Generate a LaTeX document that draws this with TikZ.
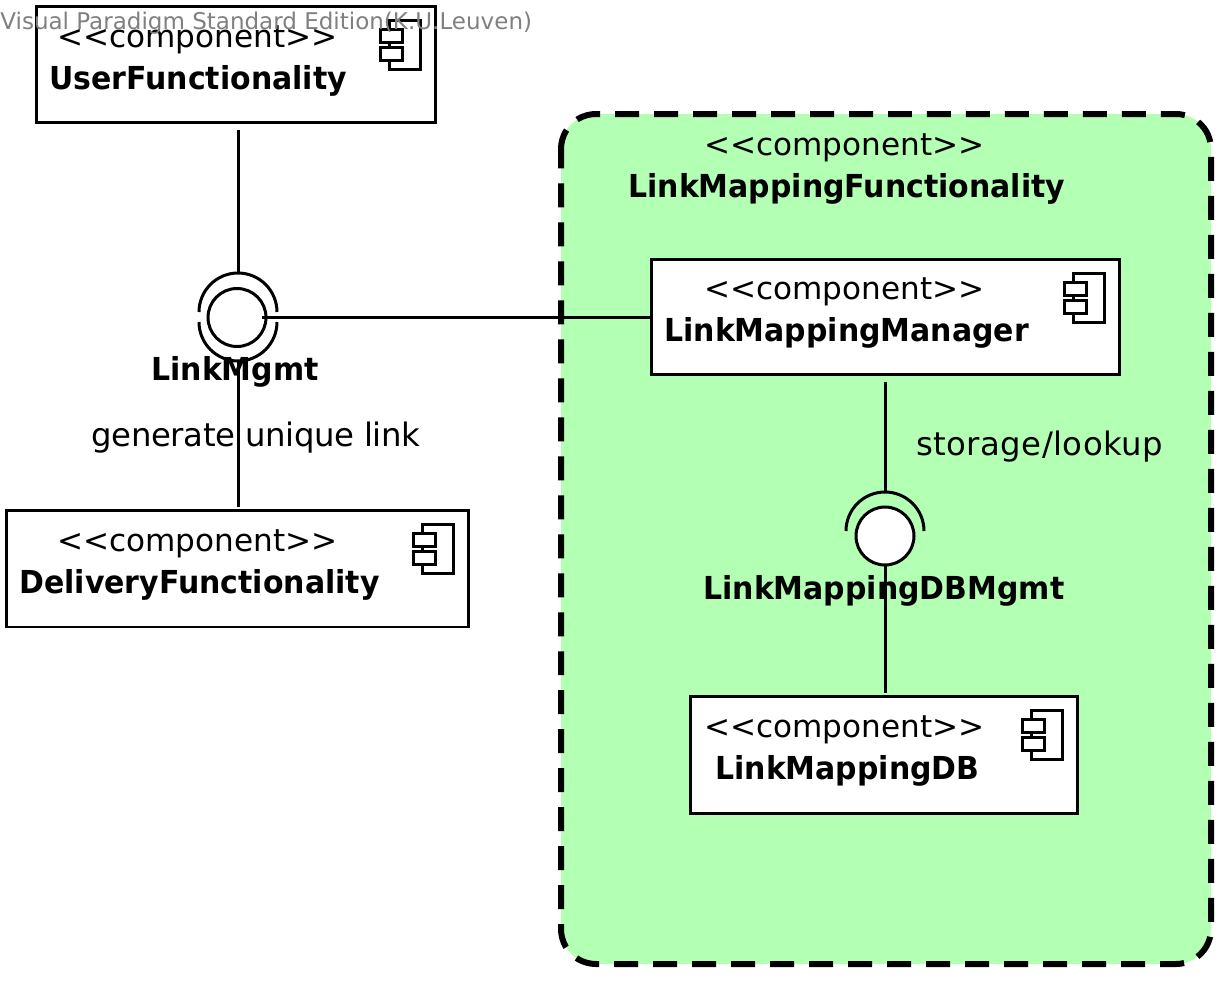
\documentclass[tikz,border=0pt]{standalone}
\usepackage{fontspec}
\setmainfont[BoldFeatures={FakeStretch=0.947}]{DejaVu Sans}
\definecolor{compgreen}{HTML}{B3FFB3}
\newcommand{\stereotext}{{<}{<}component{>}{>}}
\tikzset{
  wire/.style={draw=black,line width=0.06cm},
  compbox/.style={draw=black,fill=white,line width=0.06cm,outer sep=0pt,inner sep=0pt},
  ball/.style={circle,draw=black,fill=white,line width=0.06cm,outer sep=0pt,inner sep=0pt,minimum size=1.16cm},
  socket/.style={circle,outer sep=0pt,inner sep=0pt,minimum size=1.56cm},
  stereo/.style={anchor=base west,inner sep=0pt,font=\fontsize{17.7}{20}\selectfont},
  compname/.style={anchor=base west,inner sep=0pt,font=\fontsize{18}{20}\selectfont\bfseries},
  plainlabel/.style={anchor=base west,inner sep=0pt,font=\fontsize{18.4}{20}\selectfont},
  compicon/.pic={
    \draw[wire] (-46,14) rectangle (-15,63);
    \draw[wire,fill=white] (-55,23) rectangle (-33,36);
    \draw[wire,fill=white] (-55,41) rectangle (-33,54);
  }
}
\begin{document}
\begin{tikzpicture}[x=0.02cm,y=-0.02cm]
\useasboundingbox (0,0) rectangle (1227,981);
\draw[fill=compgreen,draw=black,line width=0.12cm,dash pattern=on 0.48cm off 0.3cm,dash phase=0.08cm,samples=13]
  plot[domain=180:270] ({596+35*cos(\x)},{149+35*sin(\x)})
  -- plot[domain=270:360] ({1176+35*cos(\x)},{149+35*sin(\x)})
  -- plot[domain=0:90] ({1176+35*cos(\x)},{929+35*sin(\x)})
  -- plot[domain=90:180] ({596+35*cos(\x)},{929+35*sin(\x)}) -- cycle;
\node[stereo] (funcStereo) at (704,155) {\stereotext};
\node[compname] (funcName) at (628,197) {LinkMappingFunctionality};

\node[compbox,minimum width=8cm,minimum height=2.34cm] (user) at (236,64.5) {};
\node[compbox,minimum width=9.26cm,minimum height=2.34cm] (delivery) at (237.5,568.5) {};
\node[compbox,minimum width=9.38cm,minimum height=2.32cm] (manager) at (885.5,317) {};
\node[compbox,minimum width=7.76cm,minimum height=2.34cm] (storeDB) at (884,754.5) {};
\pic at (user.north east) {compicon};
\pic at (delivery.north east) {compicon};
\pic at (manager.north east) {compicon};
\pic at (storeDB.north east) {compicon};

\node[socket] (mgmtUpper) at (238,312) {};
\node[socket] (mgmtLower) at (238,322) {};
\node[ball] (mgmtBall) at (237,317.5) {};
\node[socket] (dbSocket) at (885,531) {};
\node[ball] (dbBall) at (885,536) {};
\draw[wire] (mgmtUpper.west) arc[start angle=180,end angle=0,radius=0.78cm];
\draw[wire] (mgmtLower.west) arc[start angle=180,end angle=360,radius=0.78cm];
\draw[wire] (dbSocket.west) arc[start angle=180,end angle=0,radius=0.78cm];

\draw[wire,shorten <=0.14cm] (mgmtUpper.north |- user.south) -- (mgmtUpper.north);
\draw[wire,shorten <=-0.08cm] (mgmtBall.east) -- (mgmtBall.east -| manager.west);
\draw[wire,shorten >=0.06cm] (mgmtLower.south) -- (mgmtLower.south |- delivery.north);
\draw[wire,shorten <=0.14cm] (dbSocket.north |- manager.south) -- (dbSocket.north);
\draw[wire,shorten >=0.06cm] (dbBall.south) -- (dbBall.south |- storeDB.north);

\node[stereo] (userStereo) at (57,47) {\stereotext};
\node[compname] (userName) at (49,89) {UserFunctionality};
\node[stereo] (deliveryStereo) at (57,551) {\stereotext};
\node[compname] (deliveryName) at (19,593) {DeliveryFunctionality};
\node[stereo] (managerStereo) at (704,299) {\stereotext};
\node[compname] (managerName) at (664,341) {LinkMappingManager};
\node[stereo] (dbStereo) at (704,737) {\stereotext};
\node[compname] (dbName) at (715,779) {LinkMappingDB};
\node[compname] (mgmtName) at (151,380) {LinkMgmt};
\node[compname] (dbMgmtName) at (703,599) {LinkMappingDBMgmt};
\node[plainlabel] (uniqueLabel) at (91,446) {\addfontfeature{LetterSpace=-1.1}generate unique link};
\node[plainlabel] (storageLabel) at (916,455) {\addfontfeature{LetterSpace=1.3}storage/lookup};
\node[anchor=base west,inner sep=0pt,text=black!50,font=\fontsize{13.1}{15}\selectfont] (editionMark) at (0,29) {Visual Paradigm Standard Edition(K.U.Leuven)};
\end{tikzpicture}
\end{document}
